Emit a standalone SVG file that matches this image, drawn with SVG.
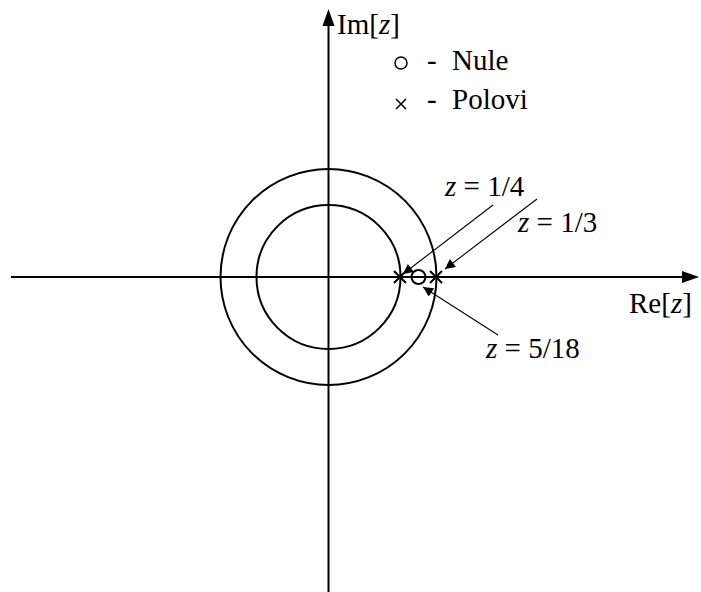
<svg xmlns="http://www.w3.org/2000/svg" width="701" height="592" viewBox="0 0 701 592">
<style>
.ax{stroke:#000;stroke-width:2;fill:none}
.c{stroke:#000;stroke-width:2;fill:none}
.ld{stroke:#000;stroke-width:1.1;fill:none}
.t{font-family:"Liberation Serif","Times New Roman",serif;font-size:29px;fill:#000}
.i{font-style:italic}
</style>
<defs>
<marker id="ah" viewBox="0 0 10 10" refX="10" refY="5" markerWidth="16" markerHeight="10" markerUnits="userSpaceOnUse" orient="auto">
<path d="M0,0 L10,5 L0,10 Z" fill="#000"/>
</marker>
</defs>
<g id="axes">
<line class="ax" x1="11" y1="277" x2="682" y2="277"/>
<path d="M682,271 L699,277 L682,283 Z" fill="#000"/>
<line class="ax" x1="328.5" y1="592" x2="328.5" y2="26"/>
<path d="M322.5,26 L328.5,9 L334.5,26 Z" fill="#000"/>
</g>
<g id="circles">
<circle class="c" cx="328.5" cy="277" r="108"/>
<circle class="c" cx="328.5" cy="277" r="72"/>
</g>
<g id="poles-zeros">
<path class="c" d="M394,271 L406,283 M394,283 L406,271" stroke-width="1.6"/>
<path class="c" d="M430,271 L442,283 M430,283 L442,271" stroke-width="1.6"/>
<circle class="c" cx="418.5" cy="277" r="7" fill="#fff"/>
</g>
<g id="connectors">
<line class="ld" x1="493" y1="205" x2="403" y2="274" marker-end="url(#ah)"/>
<line class="ld" x1="537" y1="199" x2="445" y2="269" marker-end="url(#ah)"/>
<line class="ld" x1="498" y1="335" x2="423" y2="287" marker-end="url(#ah)"/>
</g>
<g id="labels">
<text class="t" x="337" y="34">Im[<tspan class="i">z</tspan>]</text>
<circle cx="401" cy="63" r="6" fill="none" stroke="#000" stroke-width="1.5"/>
<text class="t" x="427" y="70">-</text>
<text class="t" x="452" y="70">Nule</text>
<path d="M396,99 L406,109 M396,109 L406,99" stroke="#000" stroke-width="1.5"/>
<text class="t" x="427" y="109">-</text>
<text class="t" x="452" y="109">Polovi</text>
<text class="t" x="445" y="196"><tspan class="i">z</tspan> = 1/4</text>
<text class="t" x="518" y="232"><tspan class="i">z</tspan> = 1/3</text>
<text class="t" x="629" y="313">Re[<tspan class="i">z</tspan>]</text>
<text class="t" x="486" y="358"><tspan class="i">z</tspan> = 5/18</text>
</g>
</svg>
